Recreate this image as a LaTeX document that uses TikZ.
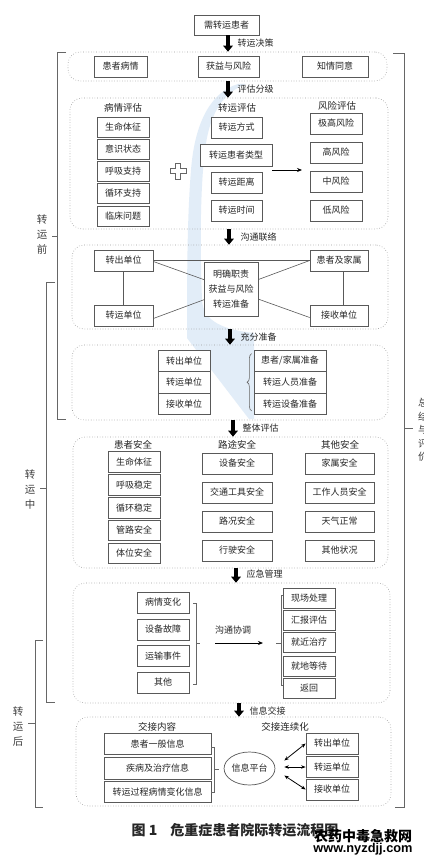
\documentclass[tikz,border=0pt]{standalone}
\usepackage{fontspec}
\setmainfont{Liberation Sans}
\newfontfamily\cjk{Noto Sans CJK SC}
\usetikzlibrary{arrows.meta,decorations.pathreplacing,calc,shapes.geometric}
\pgfdeclarelayer{swooshlayer}
\pgfdeclarelayer{linklayer}
\pgfsetlayers{swooshlayer,linklayer,main}
\definecolor{swooshblue}{RGB}{226,237,248}
\begin{document}
\begin{tikzpicture}[x=1pt,y=-1pt,
  every node/.style={font=\cjk\fontsize{9}{10}\selectfont, text=black!85},
  box/.style={draw=black!65, line width=0.7pt, fill=white, inner sep=0pt, minimum height=21pt},
  panel/.style={draw=black!40, dotted, line width=0.6pt, rounded corners=12pt, inner sep=0pt},
  bigarrow/.style={line width=3.6pt, -{Triangle[width=9.5pt,length=6pt]}},
  brk/.style={draw=black!60, line width=0.6pt},
  xline/.style={draw=black!65, line width=0.6pt},
  thinarrow/.style={draw=black, line width=0.8pt, -{Stealth[length=5pt,width=4pt]}},
  dbl/.style={draw=black, line width=0.8pt, {Stealth[length=4.5pt,width=3.5pt]}-{Stealth[length=4.5pt,width=3.5pt]}},
  hdr/.style={font=\cjk\fontsize{9.5}{10}\selectfont},
  lbl/.style={anchor=west, font=\cjk\fontsize{9}{10}\selectfont},
  sidelabel/.style={align=center, text=black!75, font=\cjk\fontsize{10.5}{15}\selectfont}
]
\begin{pgfonlayer}{swooshlayer}
\fill[white] (0,0) rectangle (423,861);
\fill[swooshblue] (238,84) .. controls (212,92) and (195,120) .. (191,170)
  .. controls (187,220) and (187,280) .. (187,338) -- (249,419) -- (254,419) -- (254,333)
  .. controls (225,330) and (203,322) .. (202,300)
  .. controls (200,250) and (200,190) .. (205,150)
  .. controls (210,110) and (225,92) .. (246,84) -- cycle;
\end{pgfonlayer}
\useasboundingbox (0,0) rectangle (423,861);

% ---------- top
\node[box, minimum width=65pt, minimum height=20pt] (need) at (226.5,25) {需转运患者};

% ---------- panel 1
\node[panel, minimum width=319pt, minimum height=29pt] (P1) at (227.5,66.5) {};
\node[box, minimum width=53pt] (p1a) at (120.5,66.5) {患者病情};
\node[box, minimum width=61pt] (p1b) at (228.5,66.5) {获益与风险};
\node[box, minimum width=66pt] (p1c) at (335,66.5) {知情同意};
\draw[bigarrow] ([xshift=1.5pt]need.south) -- ([xshift=1.5pt]need.south |- P1.north);
\node[lbl] (l1) at (234,43) {转运决策};

% ---------- panel 2
\node[panel, minimum width=318pt, minimum height=131pt] (P2) at (229,163.5) {};
\draw[bigarrow] ([xshift=0.5pt]P1.south) -- ([xshift=-1pt]P2.north);
\node[lbl] (l2) at (234,89) {评估分级};
\node[hdr] (h21) at (123,108) {病情评估};
\node[hdr] (h22) at (237,108) {转运评估};
\node[hdr] (h23) at (337,106) {风险评估};
\node[box, minimum width=52pt, minimum height=20pt] (c1) at (123,127) {生命体征};
\node[box, minimum width=52pt, minimum height=20pt] (c2) at (123,149) {意识状态};
\node[box, minimum width=52pt, minimum height=20pt] (c3) at (123,171) {呼吸支持};
\node[box, minimum width=52pt, minimum height=20pt] (c4) at (123,193) {循环支持};
\node[box, minimum width=52pt, minimum height=20pt] (c5) at (123,216) {临床问题};
\draw[draw=black!60, line width=0.6pt, fill=white] (175.5,163) -- (180.5,163) -- (180.5,168.5) -- (186,168.5) -- (186,173.5) -- (180.5,173.5) -- (180.5,179) -- (175.5,179) -- (175.5,173.5) -- (170,173.5) -- (170,168.5) -- (175.5,168.5) -- cycle;
\node[box, minimum width=51pt] (m1) at (236.5,127.5) {转运方式};
\node[box, minimum width=72pt, minimum height=22pt] (m2) at (236,155) {转运患者类型};
\node[box, minimum width=51pt] (m3) at (236.5,182.5) {转运距离};
\node[box, minimum width=51pt] (m4) at (236.5,210.5) {转运时间};
\node[box, minimum width=52pt] (r1) at (336,123.5) {极高风险};
\node[box, minimum width=52pt] (r2) at (336,152.5) {高风险};
\node[box, minimum width=52pt] (r3) at (336,181.5) {中风险};
\node[box, minimum width=52pt] (r4) at (336,210.5) {低风险};
\coordinate (ra) at (302,170);
\draw[thinarrow] ([yshift=-15pt]m2.east) -- (ra);

% ---------- panel 3
\node[panel, minimum width=316pt, minimum height=84pt] (P3) at (230,287) {};
\draw[bigarrow] ([xshift=0pt]P2.south) -- ([xshift=-1pt]P3.north);
\node[lbl] (l3) at (237,237) {沟通联络};
\node[box, minimum width=59pt] (u1) at (123.5,260.5) {转出单位};
\node[box, minimum width=59pt] (u2) at (123.5,315.5) {转运单位};
\node[box, minimum width=58pt] (u3) at (339,260.5) {患者及家属};
\node[box, minimum width=58pt] (u4) at (339,315.5) {接收单位};
\node[box, minimum width=54pt, minimum height=54pt, align=center, font=\cjk\fontsize{9}{15}\selectfont] (mid3) at (231,289) {明确职责\\获益与风险\\转运准备};
\begin{pgfonlayer}{linklayer}
\draw[xline] (u1.east) -- (u3.west);
\draw[xline] ([yshift=-1pt]u1.east) -- ([yshift=-2pt]u4.west);
\draw[xline] ([yshift=-3pt]u2.east) -- (u3.west);
\draw[xline] (u1) -- (u2);
\draw[xline] ([xshift=4pt]u3.south) -- ([xshift=4pt]u4.north);
\end{pgfonlayer}

% ---------- panel 4
\node[panel, minimum width=316pt, minimum height=75pt] (P4) at (230,382.5) {};
\draw[bigarrow] ([xshift=0pt]P3.south) -- ([xshift=0pt]P4.north);
\node[lbl] (l4) at (237,337) {充分准备};
\node[box, minimum width=52pt, minimum height=21.5pt] (s1) at (184,360.75) {转出单位};
\node[box, minimum width=52pt, minimum height=21.5pt] (s2) at (184,382.25) {转运单位};
\node[box, minimum width=52pt, minimum height=21.5pt] (s3) at (184,403.75) {接收单位};
\node[box, minimum width=72pt, minimum height=21.5pt] (t1) at (290,360.75) {患者/家属准备};
\node[box, minimum width=72pt, minimum height=21.5pt] (t2) at (290,382.25) {转运人员准备};
\node[box, minimum width=72pt, minimum height=21.5pt] (t3) at (290,403.75) {转运设备准备};
\draw[brk, decorate, decoration={brace, amplitude=4.5pt}] ($(t3.south west)+(-2,-4)$) -- ($(t1.north west)+(-2,4)$);

% ---------- panel 5
\node[panel, minimum width=315pt, minimum height=131pt] (P5) at (230.5,502.5) {};
\draw[bigarrow] ([xshift=3pt]P4.south) -- ([xshift=2.5pt]P5.north);
\node[lbl] (l5) at (239,428) {整体评估};
\node[hdr] (h51) at (133,445) {患者安全};
\node[hdr] (h52) at (237,445) {路途安全};
\node[hdr] (h53) at (340,445) {其他安全};
\node[box, minimum width=52pt, minimum height=20.5pt] (v1) at (134,462) {生命体征};
\node[box, minimum width=52pt, minimum height=20.5pt] (v2) at (134,485) {呼吸稳定};
\node[box, minimum width=52pt, minimum height=20.5pt] (v3) at (134,508) {循环稳定};
\node[box, minimum width=52pt, minimum height=20.5pt] (v4) at (134,530.5) {管路安全};
\node[box, minimum width=52pt, minimum height=20.5pt] (v5) at (134,553.5) {体位安全};
\node[box, minimum width=70pt] (w1) at (237,463.5) {设备安全};
\node[box, minimum width=70pt] (w2) at (237,492.5) {交通工具安全};
\node[box, minimum width=70pt] (w3) at (237,521.5) {路况安全};
\node[box, minimum width=70pt] (w4) at (237,550.5) {行驶安全};
\node[box, minimum width=69pt] (o1) at (339.5,463.5) {家属安全};
\node[box, minimum width=69pt] (o2) at (339.5,492.5) {工作人员安全};
\node[box, minimum width=69pt] (o3) at (339.5,521.5) {天气正常};
\node[box, minimum width=69pt] (o4) at (339.5,550.5) {其他状况};

% ---------- panel 6
\node[panel, minimum width=317pt, minimum height=120pt] (P6) at (231.5,643) {};
\draw[bigarrow] ([xshift=5.5pt]P5.south) -- ([xshift=4.5pt]P6.north);
\node[lbl] (l6) at (243,574) {应急管理};
\node[box, minimum width=52pt] (q1) at (163,602.5) {病情变化};
\node[box, minimum width=52pt] (q2) at (163,629.5) {设备故障};
\node[box, minimum width=52pt] (q3) at (163,656) {运输事件};
\node[box, minimum width=52pt] (q4) at (163,682.5) {其他};
\draw[brk] (193,603) -- (196,603) -- (196,684) -- (193,684);
\draw[brk] (196,643) -- (200,643);
\coordinate (bL) at (200,643);
\coordinate (bR) at (276,643);
\node (l6b) at (233,630) {沟通协调};
\draw[thinarrow] ([xshift=15pt]bL) -- ([xshift=-13pt]bR);
\draw[brk] (284,595) -- (281,595) -- (281,685) -- (284,685);
\draw[brk] (281,643) -- (276,643);
\node[box, minimum width=52pt, minimum height=20pt] (e1) at (309,598) {现场处理};
\node[box, minimum width=52pt, minimum height=20pt] (e2) at (309,620) {汇报评估};
\node[box, minimum width=52pt, minimum height=20pt] (e3) at (309,642.5) {就近治疗};
\node[box, minimum width=52pt, minimum height=20pt] (e4) at (309,666.5) {就地等待};
\node[box, minimum width=52pt, minimum height=20pt] (e5) at (309,688.5) {返回};

% ---------- panel 7
\node[panel, minimum width=315pt, minimum height=89pt] (P7) at (233.5,761.5) {};
\draw[bigarrow] ([xshift=7.5pt]P6.south) -- ([xshift=5.5pt]P7.north);
\node[lbl] (l7) at (246,711) {信息交接};
\node[hdr] (h71) at (157,727) {交接内容};
\node[hdr] (h72) at (285,727) {交接连续化};
\node[box, minimum width=107pt, minimum height=21.5pt] (f1) at (157.5,744) {患者一般信息};
\node[box, minimum width=107pt, minimum height=21.5pt] (f2) at (157.5,768.5) {疾病及治疗信息};
\node[box, minimum width=107pt, minimum height=21.5pt] (f3) at (157.5,792) {转运过程病情变化信息};
\draw[brk] (211,747) -- (214,747) -- (214,792) -- (211,792);
\draw[brk] (214,769) -- (219,769);
\node[draw=black!65, line width=0.7pt, ellipse, minimum width=47pt, minimum height=33pt, inner sep=0pt] (ip) at (249.5,768.5) {信息平台};
\node[box, minimum width=52pt] (g1) at (332,743.5) {转出单位};
\node[box, minimum width=52pt] (g2) at (332,767) {转运单位};
\node[box, minimum width=52pt] (g3) at (332,789.5) {接收单位};
\draw[dbl] ($(ip.east)+(9,-8)$) -- (g1.west);
\draw[dbl] ($(ip.east)+(9,-1.5)$) -- (g2.west);
\draw[dbl] ($(ip.east)+(9,7)$) -- (g3.west);

% ---------- outer brackets
\draw[brk] (66,52) -- (57,52) -- (57,419) -- (66,419);
\draw[brk] (57,236) -- (52,236);
\node[sidelabel] (sb1) at (42,234) {转\\运\\前};
\draw[brk] (55,282) -- (46,282) -- (46,702) -- (55,702);
\draw[brk] (46,488) -- (40,488);
\node[sidelabel] (sb2) at (30,489) {转\\运\\中};
\draw[brk] (43,640) -- (35,640) -- (35,807) -- (43,807);
\draw[brk] (35,723) -- (28,723);
\node[sidelabel] (sb3) at (18,727) {转\\运\\后};
\draw[brk] (393,53) -- (404,53) -- (404,807) -- (395,807);
\draw[brk] (404,428) -- (413,428);
\node[sidelabel, font=\cjk\fontsize{10}{13.5}\selectfont] (sb4) at (423,430) {总\\结\\与\\评\\价};

% ---------- caption and watermark
\node[font=\cjk\bfseries\fontsize{14}{16}\selectfont, text=black!85] (cap) at (235,830) {图 1\hspace{13pt}危重症患者院际转运流程图};
\node[font=\cjk\bfseries\fontsize{14}{16}\selectfont, text=black] (wm1) at (363,836) {农药中毒急救网};
\node[font=\rmfamily\bfseries\fontsize{12.8}{14}\selectfont, text=black] (wm2) at (363,849) {www.nyzdjj.com};
\end{tikzpicture}
\end{document}
